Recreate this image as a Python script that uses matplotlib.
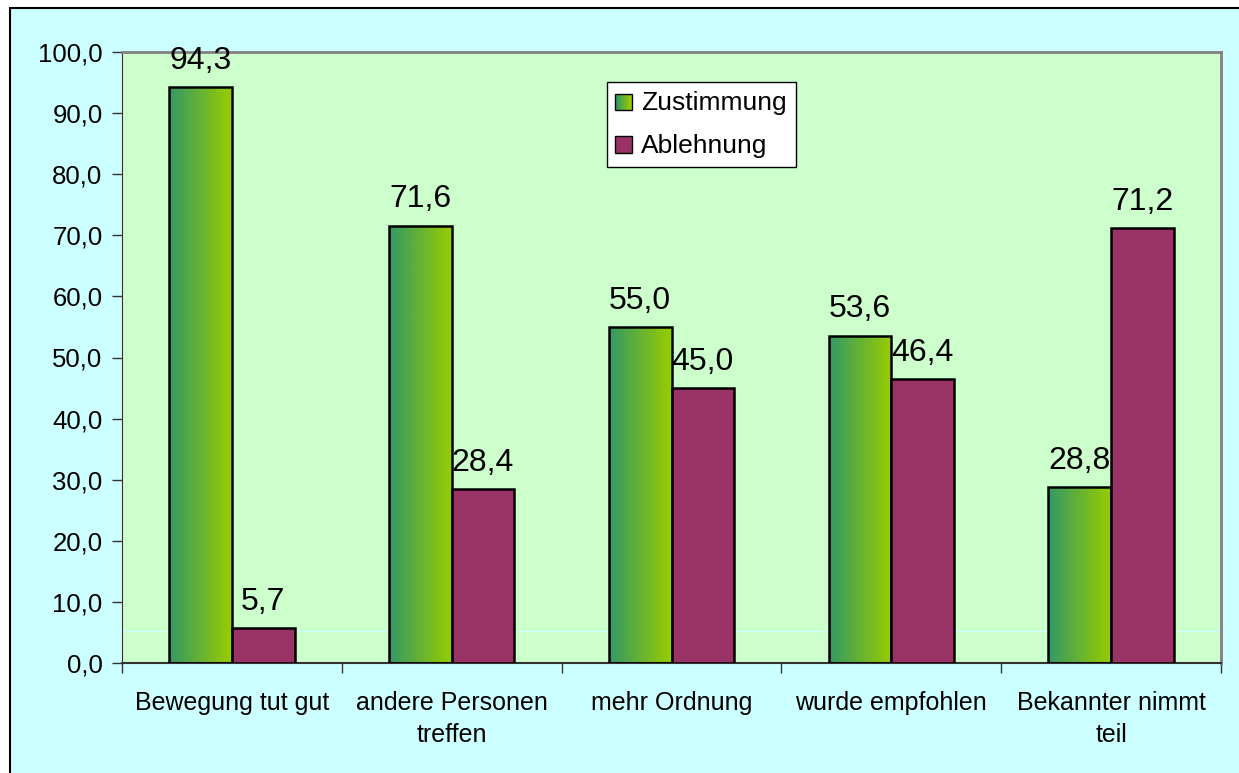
import matplotlib
matplotlib.use("Agg")
import matplotlib.pyplot as plt
import numpy as np
from matplotlib.patches import Rectangle
from matplotlib.colors import LinearSegmentedColormap
from matplotlib.legend_handler import HandlerBase

plt.rcParams['font.family'] = ['Liberation Sans', 'DejaVu Sans']

categories = ["Bewegung tut gut", "andere Personen\ntreffen", "mehr Ordnung",
              "wurde empfohlen", "Bekannter nimmt\nteil"]
zustimmung = [94.3, 71.6, 55.0, 53.6, 28.8]
ablehnung = [5.7, 28.4, 45.0, 46.4, 71.2]
series_names = ["Zustimmung", "Ablehnung"]

W, H = 1239, 773
green_cmap = LinearSegmentedColormap.from_list("g", ["#339966", "#99CC00"])
purple = "#993366"
grad = np.linspace(0, 1, 256).reshape(1, -1)

fig = plt.figure(figsize=(W / 100, H / 100), dpi=100)
fig.patch.set_facecolor("white")
# outer chart area (right/bottom edges lie outside the picture)
fig.patches.append(Rectangle((10 / W, -0.05), 1.1, 1.05 - 8 / H, transform=fig.transFigure,
                             facecolor="#CCFFFF", edgecolor="black", lw=1.5, zorder=-10))

left, right, top, bottom = 122, 1221, 52, 663
ax = fig.add_axes([left / W, 1 - bottom / H, (right - left) / W, (bottom - top) / H])
ax.set_facecolor("#CCFFCC")

x = np.arange(len(categories))
bw = 0.285
ax.axhline(5.3, color="#CCFFFF", lw=1, zorder=0.5)

for i, v in enumerate(zustimmung):
    x0 = x[i] - bw
    rect = Rectangle((x0, 0), bw, v, facecolor="none", edgecolor="black", lw=1.8, zorder=3)
    ax.add_patch(rect)
    im = ax.imshow(grad, cmap=green_cmap, extent=(x0, x0 + bw, 0, v), aspect="auto", zorder=2)
    im.set_clip_path(rect)
    ax.annotate(f"{v:.1f}".replace(".", ","), (x[i] - bw / 2, v), xytext=(0, 8),
                textcoords="offset points", ha="center", va="bottom", fontsize=23)

ax.bar(x + bw / 2, ablehnung, bw, color=purple, edgecolor="black", lw=1.8, zorder=3)
for i, v in enumerate(ablehnung):
    ax.annotate(f"{v:.1f}".replace(".", ","), (x[i] + bw / 2, v), xytext=(0, 8),
                textcoords="offset points", ha="center", va="bottom", fontsize=23)

ax.set_xlim(-0.5, len(categories) - 0.5)
ax.set_ylim(0, 100)
ax.set_yticks(np.arange(0, 101, 10))
ax.set_yticklabels([f"{t:.1f}".replace(".", ",") for t in np.arange(0, 101, 10)], fontsize=18.5)
ax.set_xticks(x)
ax.set_xticklabels(categories, fontsize=18, linespacing=1.45)
ax.set_xticks(np.arange(-0.5, len(categories), 1), minor=True)
ax.tick_params(axis="x", which="major", length=0, pad=20)
ax.tick_params(axis="x", which="minor", length=7, width=1, color="#333333")
ax.tick_params(axis="y", length=7, width=1, color="#333333", pad=7)
for s in ["top", "right"]:
    ax.spines[s].set_color("#808080")
    ax.spines[s].set_linewidth(2)
ax.spines["left"].set_color("#333333")
ax.spines["bottom"].set_color("#333333")
ax.spines["bottom"].set_linewidth(1.5)


class GradHandler(HandlerBase):
    def create_artists(self, legend, orig_handle, xd, yd, width, height, fontsize, trans):
        n = 8
        s = height * 0.9
        x0 = xd + width - s
        arts = []
        for k in range(n):
            arts.append(Rectangle((x0 + k * s / n, yd), s / n, s, facecolor=green_cmap(k / (n - 1)),
                                  edgecolor="none", transform=trans))
        arts.append(Rectangle((x0, yd), s, s, facecolor="none", edgecolor="black", lw=1, transform=trans))
        return arts


class SquareHandler(HandlerBase):
    def create_artists(self, legend, orig_handle, xd, yd, width, height, fontsize, trans):
        s = height * 0.9
        return [Rectangle((xd + width - s, yd), s, s, facecolor=purple, edgecolor="black", lw=1,
                          transform=trans)]


h1 = Rectangle((0, 0), 1, 1)
h2 = Rectangle((0, 0), 1, 1, facecolor=purple)
leg = ax.legend([h1, h2], series_names, handler_map={h1: GradHandler(), h2: SquareHandler()},
                loc="upper left", bbox_to_anchor=((607 - left) / (right - left), 1 - (82 - top) / (bottom - top)),
                fontsize=19, frameon=True, fancybox=False, edgecolor="black", framealpha=1,
                handlelength=0.6, handletextpad=0.35, borderpad=0.35, labelspacing=0.7,
                borderaxespad=0)
leg.get_frame().set_linewidth(1)

fig.savefig("out.png", dpi=100)
